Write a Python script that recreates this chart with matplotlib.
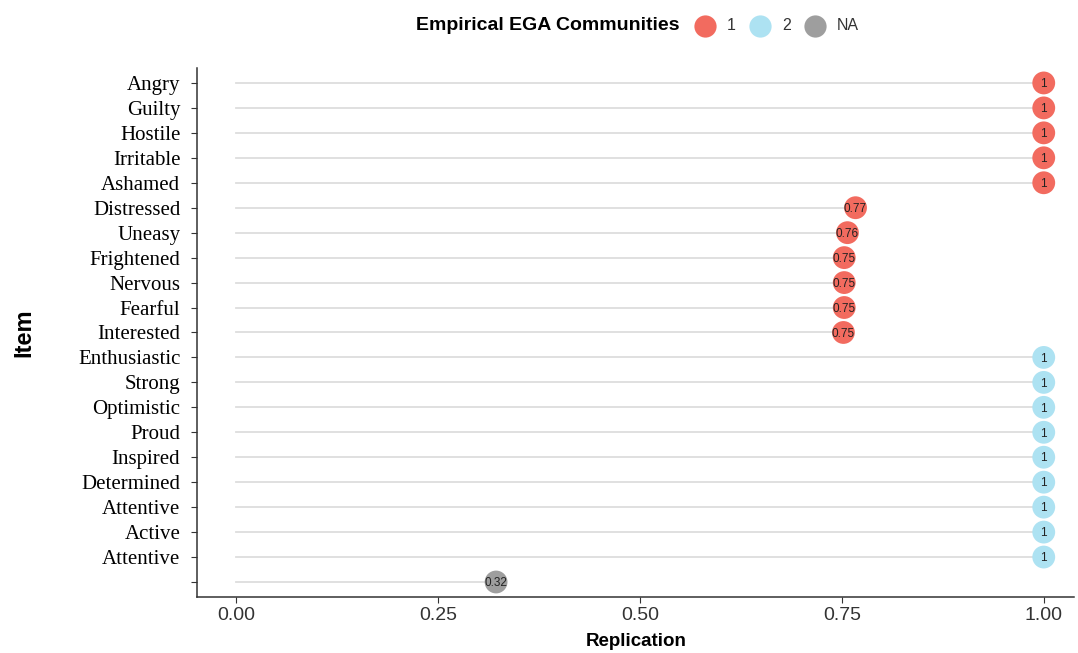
import numpy as np
import matplotlib.pyplot as plt
from matplotlib.lines import Line2D

# item order from top to bottom (last one has no label)
items = ["Angry", "Guilty", "Hostile", "Irritable", "Ashamed", "Distressed",
         "Uneasy", "Frightened", "Nervous", "Fearful", "Interested",
         "Enthusiastic", "Strong", "Optimistic", "Proud", "Inspired",
         "Determined", "Attentive", "Active", "Attentive", ""]
replication = [1, 1, 1, 1, 1, 0.767, 0.757, 0.753, 0.753, 0.753, 0.752,
               1, 1, 1, 1, 1, 1, 1, 1, 1, 0.322]
community = ["1"] * 11 + ["2"] * 9 + ["NA"]

legend_keys = ["1", "2", "NA"]
colors = {"1": "#F26B5F", "2": "#ADE2F2", "NA": "#9E9E9E"}
sans = "Liberation Sans"

fig = plt.figure(figsize=(10.78, 6.53), dpi=100)
ax = fig.add_axes([0.1827, 0.0858, 0.814, 0.8101])

n = len(items)
ypos = np.arange(n)[::-1]

for y, v, c in zip(ypos, replication, community):
    ax.plot([0, v], [y, y], color="#DDDDDD", lw=1.3, zorder=1)
    ax.scatter(v, y, s=270, color=colors[c], edgecolors="none", zorder=2)
    lab = "1" if v == 1 else f"{v:.2f}"
    ax.text(v, y - 0.05, lab, ha="center", va="center", fontsize=8.5,
            fontfamily=sans, color="#222222", zorder=3)

ax.set_xlim(-0.0483, 1.038)
ax.set_ylim(-0.6, n - 0.4)
ax.set_yticks(ypos)
ax.set_yticklabels(items, fontfamily="Liberation Serif", fontsize=15,
                   color="black")
ax.set_xticks([0, 0.25, 0.5, 0.75, 1.0])
ax.set_xticklabels(["0.00", "0.25", "0.50", "0.75", "1.00"], fontsize=14,
                   fontfamily=sans, color="#333333")
ax.tick_params(axis="both", length=4, color="#333333")
ax.tick_params(axis="y", pad=8)

for s in ["top", "right"]:
    ax.spines[s].set_visible(False)
for s in ["left", "bottom"]:
    ax.spines[s].set_color("#333333")
    ax.spines[s].set_linewidth(1.1)

ax.set_xlabel("Replication", fontsize=13.5, fontweight="bold",
              fontfamily=sans, labelpad=6)
ax.set_ylabel("Item", fontsize=17, fontweight="bold", fontfamily=sans)
ax.yaxis.set_label_coords(-0.184, 0.5)

# legend drawn by hand: bold title on the left, keys in one row
W, H = 1078, 653
ly = 1 - 26 / H
fig.text(680 / W, ly, "Empirical EGA Communities", ha="right", va="center",
         fontsize=14, fontweight="bold", fontfamily=sans)
key_x = [705, 760, 815]
for kx, k in zip(key_x, legend_keys):
    fig.add_artist(Line2D([kx / W], [ly], marker="o", ls="none",
                          markersize=16, markerfacecolor=colors[k],
                          markeredgecolor="none",
                          transform=fig.transFigure))
    fig.text((kx + 22) / W, ly, k, ha="left", va="center", fontsize=11.5,
             fontfamily=sans, color="#333333")

fig.savefig("out.png", dpi=100)
